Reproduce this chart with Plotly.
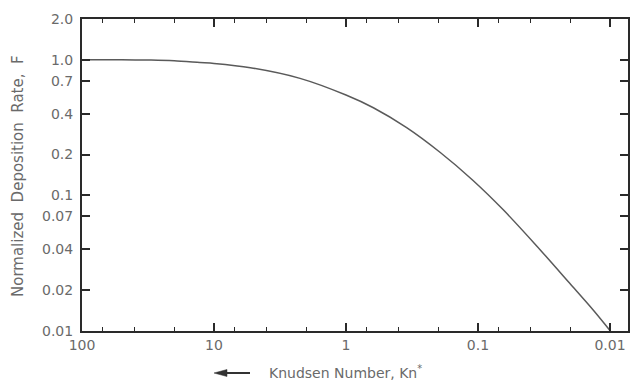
import numpy as np
import plotly.graph_objects as go

# Data
kn = [100, 50, 30, 20, 12.8, 10, 5.3, 2.23, 1.0, 0.62, 0.347, 0.194, 0.11, 0.0643, 0.0359, 0.0201, 0.0134, 0.01]
F = [1.0, 1.0, 0.995, 0.983, 0.955, 0.94, 0.875, 0.73, 0.55, 0.443, 0.316, 0.208, 0.13, 0.0783, 0.0424, 0.0224, 0.0143, 0.0101]

x_major = [100, 10, 1, 0.1, 0.01]
x_major_text = ["100", "10", "1", "0.1", "0.01"]
x_minor = [70, 40, 20, 7, 4, 2, 0.7, 0.4, 0.2, 0.07, 0.04, 0.02]

y_ticks = [2.0, 1.0, 0.7, 0.4, 0.2, 0.1, 0.07, 0.04, 0.02, 0.01]
y_text = ["2.0", "1.0", "0.7", "0.4", "0.2", "0.1", "0.07", "0.04", "0.02", "0.01"]

FONT = "DejaVu Sans, Liberation Sans, Arial, sans-serif"
TXT = "#6a6a6a"
AX = "#2a2a2a"

L, R, T, B = 82, 628, 19, 331
PW, PH = R - L, B - T


def px(x):
    return (x - L) / PW


def py(y):
    return (B - y) / PH


fig = go.Figure()
fig.add_trace(go.Scatter(x=kn, y=F, mode="lines",
                         line=dict(color="#5a5a5a", width=1.5, shape="spline", smoothing=0.8),
                         showlegend=False, hoverinfo="skip"))

fig.update_layout(
    width=630, height=380,
    margin=dict(l=L, r=630 - R, t=T, b=380 - B, autoexpand=False),
    paper_bgcolor="white", plot_bgcolor="white",
    font=dict(family=FONT, size=14, color=TXT),
    showlegend=False,
)

fig.update_xaxes(
    type="log", range=[2, np.log10(0.0073)],
    showgrid=False, zeroline=False,
    showline=True, linecolor=AX, linewidth=2, mirror="ticks",
    ticks="inside", ticklen=8, tickwidth=1.5, tickcolor=AX,
    tickvals=x_major, ticktext=x_major_text,
    tickfont=dict(family=FONT, size=14, color=TXT),
    minor=dict(tickvals=x_minor, ticks="inside", ticklen=4, tickwidth=1.2, tickcolor=AX, showgrid=False),
)
fig.update_yaxes(
    type="log", range=[-2, np.log10(2.0)],
    showgrid=False, zeroline=False,
    showline=True, linecolor=AX, linewidth=2, mirror="ticks",
    ticks="inside", ticklen=8, tickwidth=1.5, tickcolor=AX,
    tickvals=y_ticks, ticktext=y_text,
    tickfont=dict(family=FONT, size=14, color=TXT),
    ticklabelstandoff=4,
)

# y-axis title
fig.add_annotation(xref="paper", yref="paper", x=px(18), y=py(176),
                   text="Normalized  Deposition  Rate,  F", textangle=-90, showarrow=False,
                   font=dict(family=FONT, size=15, color=TXT), xanchor="center", yanchor="middle")
# x-axis title with arrow
fig.add_annotation(xref="paper", yref="paper", x=px(267), y=py(372),
                   text="Knudsen Number, Kn<sup>*</sup>", showarrow=False,
                   font=dict(family=FONT, size=14, color=TXT), xanchor="left", yanchor="middle")
fig.add_shape(type="line", xref="paper", yref="paper", x0=px(224), x1=px(250), y0=py(373), y1=py(373),
              line=dict(color="#333333", width=2))
fig.add_shape(type="path", xref="paper", yref="paper",
              path=f"M {px(214)} {py(373)} L {px(227)} {py(369.5)} L {px(227)} {py(376.5)} Z",
              fillcolor="#333333", line=dict(color="#333333", width=0.5))

fig.write_html("out.html", config={"displayModeBar": False},
               post_script="document.body.style.margin='0';document.body.style.overflow='hidden';")
